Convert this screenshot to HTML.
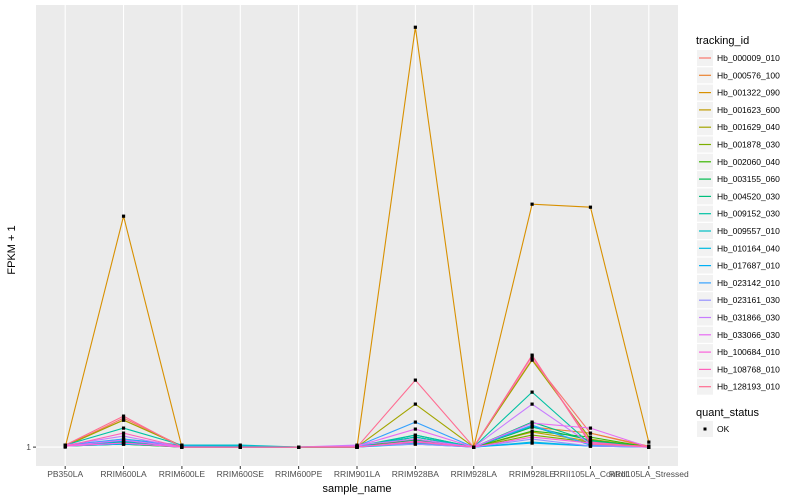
<!DOCTYPE html>
<html><head><meta charset="utf-8"><style>
body{margin:0;background:#fff;}
svg{display:block;font-family:"Liberation Sans",sans-serif;}
</style></head><body>
<svg id="chart" width="800" height="500">
<rect x="36" y="5" width="642" height="461" fill="#ebebeb"/>
<g id="grid"></g><g id="lines"></g><g id="pts"></g><g id="axes"></g><g id="legend"></g>
<text x="357" y="492" font-size="11" text-anchor="middle" fill="#000">sample_name</text>
<text transform="translate(15,250) rotate(-90)" font-size="11" text-anchor="middle" fill="#000">FPKM + 1</text>
</svg>
<script>
const categories=["PB350LA","RRIM600LA","RRIM600LE","RRIM600SE","RRIM600PE","RRIM901LA","RRIM928BA","RRIM928LA","RRIM928LE","RRII105LA_Control","RRII105LA_Stressed"];
const seriesNames=["Hb_000009_010","Hb_000576_100","Hb_001322_090","Hb_001623_600","Hb_001629_040","Hb_001878_030","Hb_002060_040","Hb_003155_060","Hb_004520_030","Hb_009152_030","Hb_009557_010","Hb_010164_040","Hb_017687_010","Hb_023142_010","Hb_023161_030","Hb_031866_030","Hb_033066_030","Hb_100684_010","Hb_108768_010","Hb_128193_010"];
const seriesColors=["#F8766D","#EA8331","#D89000","#C09B00","#A3A500","#7CAE00","#39B600","#00BB4E","#00BF7D","#00C1A3","#00BFC4","#00BAE0","#00B0F6","#35A2FF","#9590FF","#C77CFF","#E76BF3","#FA62DB","#FF62BC","#FF6C91"];
const s01=[1.1,3.9,1.1,1,1,1,1.8,1,9.8,2.4,1];
const s02=[1.2,3.7,1.1,1,1,1,1.6,1,3.0,2.4,1.1];
const s03=[1,24.1,1,1,1,1,43,1,25.3,25,1.5];
const s04=[1.1,1.5,1,1,1,1,1.4,1,2.5,1.6,1];
const s05=[1.1,3.7,1.1,1,1,1,5.3,1,9.7,1.8,1];
const s06=[1.1,1.3,1,1,1,1,1.5,1,2.2,1.5,1];
const s07=[1.1,1.4,1,1,1,1,2.0,1,2.6,2.0,1];
const s08=[1.1,1.3,1,1,1,1,1.7,1,3.0,1.7,1];
const s09=[1.1,1.5,1,1,1,1,2.2,1,3.5,1.6,1];
const s10=[1.2,2.9,1.2,1.1,1,1.1,2.2,1,6.5,1.3,1];
const s11=[1.1,1.8,1.2,1.2,1,1.1,2.0,1,3.1,1.2,1];
const s12=[1.1,1.6,1.1,1.1,1,1.1,1.4,1,1.5,1.1,1];
const s13=[1.1,1.3,1.1,1,1,1,1.3,1,1.4,1.1,1];
const s14=[1.2,1.8,1.1,1,1,1.1,3.5,1,3.2,1.2,1];
const s15=[1.1,1.4,1,1,1,1.1,1.3,1,1.8,1.1,1];
const s16=[1.2,2.1,1,1,1,1.2,1.8,1,5.3,1.3,1];
const s17=[1.1,1.7,1,1,1,1.1,2.8,1,3.4,2.9,1];
const s18=[1.1,1.4,1,1,1,1,1.6,1,2.0,1.4,1];
const s19=[1.1,2.4,1,1,1,1,1.5,1,10.1,1.5,1];
const s20=[1.2,4.1,1,1,1,1,7.7,1,10.2,1.3,1.1];
const seriesValues=[s01,s02,s03,s04,s05,s06,s07,s08,s09,s10,s11,s12,s13,s14,s15,s16,s17,s18,s19,s20];
const yTicks=[1];
const NS="http://www.w3.org/2000/svg";
const X0=36,X1=678,Y0=5,Y1=466;
const xs=i=>X0+(X1-X0)*(i+0.5)/categories.length;
let vmin=Infinity,vmax=-Infinity;seriesValues.forEach(s=>s.forEach(v=>{vmin=Math.min(vmin,v);vmax=Math.max(vmax,v);}));
const rg=vmax-vmin,d0=vmin-rg*0.045,d1=vmax+rg*0.053;
const ys=v=>Y1-(v-d0)/(d1-d0)*(Y1-Y0);
function mk(t,a,p){const e=document.createElementNS(NS,t);for(const k in a)e.setAttribute(k,a[k]);p.appendChild(e);return e;}
const grid=document.getElementById('grid'),lines=document.getElementById('lines'),pts=document.getElementById('pts'),axes=document.getElementById('axes'),leg=document.getElementById('legend');
categories.forEach((c,i)=>{
 const g=mk('line',{x1:xs(i),x2:xs(i),y1:Y0,y2:Y1,stroke:'#fff','stroke-width':1.1},grid);
 
 
 const tk=mk('line',{x1:xs(i),x2:xs(i),y1:Y1,y2:Y1+3,stroke:'#333','stroke-width':1},axes);
 
 
 const t=mk('text',{x:xs(i),y:Y1+11,'font-size':8.5,'text-anchor':'middle',fill:'#4d4d4d'},axes);
 t.textContent=c;
 
 
});
yTicks.forEach(v=>{
 const g=mk('line',{x1:X0,x2:X1,y1:ys(v),y2:ys(v),stroke:'#fff','stroke-width':1.1},grid);
 
 
 const tk=mk('line',{x1:X0-3,x2:X0,y1:ys(v),y2:ys(v),stroke:'#333'},axes);
 
 
 const t=mk('text',{x:X0-5,y:ys(v)+3,'font-size':8.5,'text-anchor':'end',fill:'#4d4d4d'},axes);
 t.textContent=v;
 
 
});
seriesValues.forEach((s,k)=>{
 const p=mk('polyline',{points:s.map((v,i)=>xs(i)+','+ys(v)).join(' '),fill:'none',stroke:seriesColors[k],'stroke-width':1.1},lines);
 
 
 s.forEach((v,i)=>{
  const r=mk('rect',{x:xs(i)-1.6,y:ys(v)-1.6,width:3.2,height:3.2,fill:'#000'},pts);
  
  
 });
});
const lt=mk('text',{x:696,y:44,'font-size':11,fill:'#000'},leg);
lt.textContent='tracking_id';


seriesNames.forEach((n,k)=>{
 const y=50+k*17.3;
 const g=mk('g',{},leg);
 
 
 mk('rect',{x:697,y:y,width:16,height:16,fill:'#f2f2f2'},g);
 mk('line',{x1:699,x2:711,y1:y+8,y2:y+8,stroke:seriesColors[k],'stroke-width':1.2},g);
 const t=mk('text',{x:717,y:y+11,'font-size':8.5,fill:'#000'},g);
 t.textContent=n;
});
const qt=mk('text',{x:696,y:416,'font-size':11,fill:'#000'},leg);
qt.textContent='quant_status';


const qg=mk('g',{},leg);


mk('rect',{x:697,y:421,width:16,height:16,fill:'#f2f2f2'},qg);
mk('rect',{x:703.5,y:427.5,width:3,height:3,fill:'#000'},qg);
const ok=mk('text',{x:717,y:432,'font-size':8.5,fill:'#000'},qg);
ok.textContent='OK';
</script>
</body></html>
